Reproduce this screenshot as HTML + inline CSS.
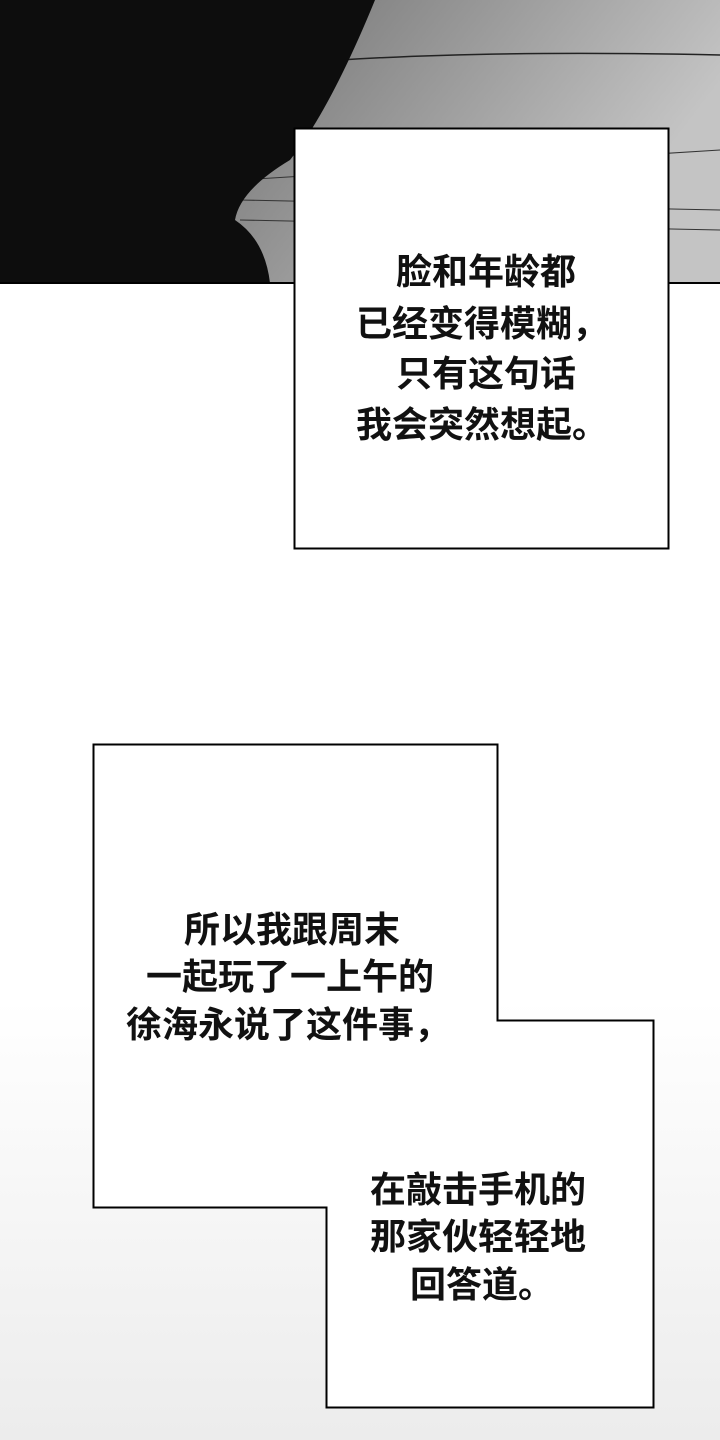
<!DOCTYPE html>
<html><head><meta charset="utf-8"><style>
body{margin:0;width:720px;height:1440px;position:relative;overflow:hidden;background:#fff;font-family:"Liberation Sans","Noto Sans CJK SC",sans-serif}
.t{position:absolute;font-size:36px;font-weight:bold;color:#111;white-space:nowrap;line-height:48px}
</style></head><body>
<div style="position:absolute;left:0;top:1000px;width:720px;height:440px;background:linear-gradient(#fff,#ececec)"></div>
<svg style="position:absolute;left:0;top:0" width="720" height="1440">
<defs><linearGradient id="g" x1="0" y1="0" x2="1" y2="0.3"><stop offset="0" stop-color="#555"/><stop offset="0.5" stop-color="#8a8a8a"/><stop offset="1" stop-color="#c4c4c4"/></linearGradient></defs>
<rect x="0" y="0" width="720" height="283" fill="url(#g)"/>
<path d="M340 60 Q500 50 720 55" stroke="#222" stroke-width="1.5" fill="none"/>
<path d="M240 180 L720 150 M240 200 L720 210 M240 220 L720 230" stroke="#333" stroke-width="1" fill="none"/>
<path d="M0 0 L375 0 Q330 110 290 160 Q240 190 235 220 Q265 240 270 283 L0 283 Z" fill="#0d0d0d"/>
<line x1="0" y1="283" x2="720" y2="283" stroke="#000" stroke-width="2"/>
<rect x="294.5" y="128.5" width="374" height="420" fill="#fff" stroke="#000" stroke-width="2"/>
<path d="M93.5 744.5 H497.5 V1020.5 H653.5 V1407.5 H326.5 V1207.5 H93.5 Z" fill="#fff" stroke="#000" stroke-width="2"/>
</svg>
<div class="t" style="left:396px;top:248px">脸和年龄都</div>
<div class="t" style="left:356px;top:300px">已经变得模糊，</div>
<div class="t" style="left:396px;top:350px">只有这句话</div>
<div class="t" style="left:356px;top:401px">我会突然想起。</div>
<div class="t" style="left:184px;top:906px">所以我跟周末</div>
<div class="t" style="left:146px;top:953px">一起玩了一上午的</div>
<div class="t" style="left:126px;top:1001px">徐海永说了这件事，</div>
<div class="t" style="left:370px;top:1166px">在敲击手机的</div>
<div class="t" style="left:370px;top:1213px">那家伙轻轻地</div>
<div class="t" style="left:410px;top:1261px">回答道。</div>
</body></html>
